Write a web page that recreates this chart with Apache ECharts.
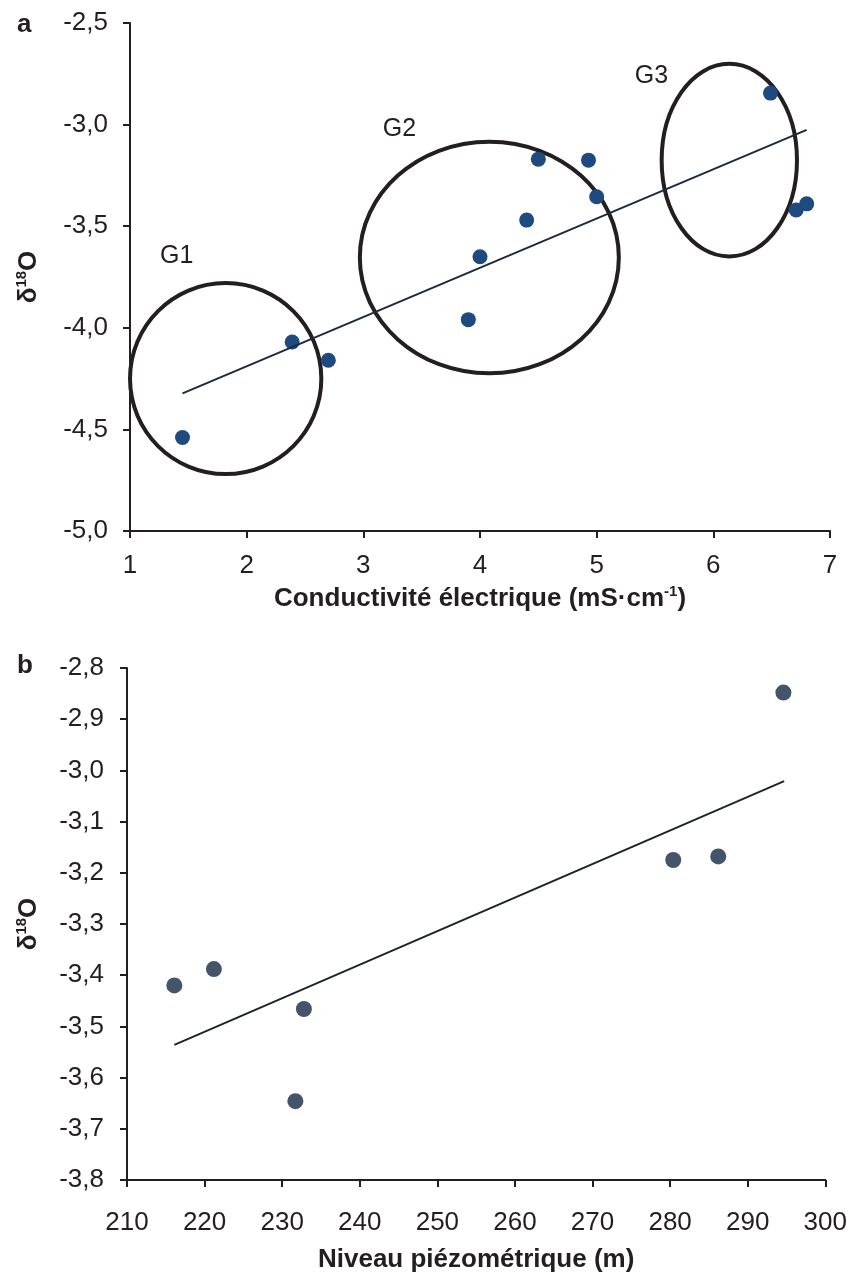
<!DOCTYPE html>
<html>
<head>
<meta charset="utf-8">
<script src="https://cdn.jsdelivr.net/npm/echarts@6/dist/echarts.min.js"></script>
<style>
  html, body { margin: 0; padding: 0; background: #fff; }
  #chart { width: 850px; height: 1276px; }
</style>
</head>
<body>
<div id="chart"></div>
<script>
// panel a: conductivity vs d18O
const condA = [1.45, 2.39, 2.70, 3.90, 4.00, 4.40, 4.50, 4.93, 5.00, 6.49, 6.71, 6.80];
const d18oA = [-4.54, -4.07, -4.16, -3.96, -3.65, -3.47, -3.17, -3.175, -3.355, -2.845, -3.42, -3.39];
const trendA = [[1.45, -4.323], [6.80, -3.026]];
// groups: centre x, centre y, half width, half height (data units)
const groupNames = ['G1', 'G2', 'G3'];
const groupEllipses = [[1.82, -4.25, 0.82, 0.47], [4.08, -3.654, 1.11, 0.57], [6.137, -3.175, 0.58, 0.474]];
const groupLabelPos = [[1.40, -3.645], [3.31, -3.02], [5.47, -2.76]];

// panel b: piezometric level vs d18O
const levelB = [216.1, 221.2, 232.8, 231.7, 280.4, 286.2, 294.6];
const d18oB = [-3.42, -3.388, -3.466, -3.646, -3.175, -3.168, -2.848];
const trendB = [[216.1, -3.536], [294.7, -3.021]];

const ink = '#231f20';
const font = '"Liberation Sans", Arial, sans-serif';

function comma(v, d) { return v.toFixed(d).replace('.', ','); }

function zip(xs, ys) { return xs.map((x, i) => [x, ys[i]]); }

const supRich = {
    t: { fontSize: 26, fontWeight: 'bold', fontFamily: font, color: ink, lineHeight: 30 },
    s: { fontSize: 15, fontWeight: 'bold', fontFamily: font, color: ink, verticalAlign: 'top', lineHeight: 30, padding: [0, 0, 12, 0] }
};

function axisBase(extra) {
    return Object.assign({
        type: 'value',
        axisLine: { show: true, onZero: false, lineStyle: { color: ink, width: 2 } },
        axisTick: { show: true, length: 7, lineStyle: { color: ink, width: 2 } },
        splitLine: { show: false },
        nameLocation: 'middle',
        nameTextStyle: { rich: supRich }
    }, extra);
}

const chart = echarts.init(document.getElementById('chart'));

chart.setOption({
    animation: false,
    backgroundColor: '#fff',
    textStyle: { fontFamily: font },
    title: [
        { text: 'a', left: 12, top: 7, textStyle: { fontSize: 26, fontWeight: 'bold', color: ink, fontFamily: font } },
        { text: 'b', left: 12, top: 648, textStyle: { fontSize: 26, fontWeight: 'bold', color: ink, fontFamily: font } }
    ],
    grid: [
        { left: 130, top: 23, width: 700, height: 508 },
        { left: 127, top: 668, width: 700, height: 512 }
    ],
    xAxis: [
        axisBase({
            gridIndex: 0, min: 1, max: 7, interval: 1,
            axisLabel: { fontSize: 26, color: ink, margin: 22, fontFamily: font },
            name: '{t|Conductivité électrique (mS·cm}{s|-1}{t|)}',
            nameGap: 53
        }),
        axisBase({
            gridIndex: 1, min: 210, max: 300, interval: 10,
            axisLabel: { fontSize: 26, color: ink, margin: 30, fontFamily: font },
            name: '{t|Niveau piézométrique (m)}',
            nameGap: 65
        })
    ],
    yAxis: [
        axisBase({
            gridIndex: 0, min: -5, max: -2.5, interval: 0.5,
            axisLabel: { fontSize: 26, color: ink, margin: 22, fontFamily: font, formatter: v => comma(v, 1) },
            name: '{t|δ}{s|18}{t|O}',
            nameRotate: 90,
            nameGap: 86
        }),
        axisBase({
            gridIndex: 1, min: -3.8, max: -2.8, interval: 0.1,
            axisLabel: { fontSize: 26, color: ink, margin: 23, fontFamily: font, formatter: v => comma(v, 1) },
            name: '{t|δ}{s|18}{t|O}',
            nameRotate: 90,
            nameGap: 83
        })
    ],
    series: [
        {
            type: 'line', xAxisIndex: 0, yAxisIndex: 0,
            data: trendA, showSymbol: false, silent: true,
            lineStyle: { color: '#1b2a3f', width: 2 }
        },
        {
            type: 'scatter', xAxisIndex: 0, yAxisIndex: 0,
            data: zip(condA, d18oA), symbolSize: 15,
            itemStyle: { color: '#1f4a80', opacity: 1 }
        },
        {
            type: 'custom', xAxisIndex: 0, yAxisIndex: 0, silent: true,
            data: groupEllipses,
            renderItem: function (params, api) {
                const c = api.coord([api.value(0), api.value(1)]);
                const s = api.size([api.value(2), api.value(3)]);
                return {
                    type: 'ellipse',
                    shape: { cx: c[0], cy: c[1], rx: s[0], ry: s[1] },
                    style: { fill: 'none', stroke: ink, lineWidth: 4 }
                };
            }
        },
        {
            type: 'custom', xAxisIndex: 0, yAxisIndex: 0, silent: true,
            data: groupLabelPos,
            renderItem: function (params, api) {
                const c = api.coord([api.value(0), api.value(1)]);
                return {
                    type: 'text',
                    x: c[0], y: c[1],
                    style: {
                        text: groupNames[params.dataIndex],
                        font: '25px ' + font, fill: ink,
                        align: 'center', verticalAlign: 'middle'
                    }
                };
            }
        },
        {
            type: 'line', xAxisIndex: 1, yAxisIndex: 1,
            data: trendB, showSymbol: false, silent: true,
            lineStyle: { color: '#1e232b', width: 2 }
        },
        {
            type: 'scatter', xAxisIndex: 1, yAxisIndex: 1,
            data: zip(levelB, d18oB), symbolSize: 16,
            itemStyle: { color: '#44546a', opacity: 1 }
        }
    ]
});
</script>
</body>
</html>
